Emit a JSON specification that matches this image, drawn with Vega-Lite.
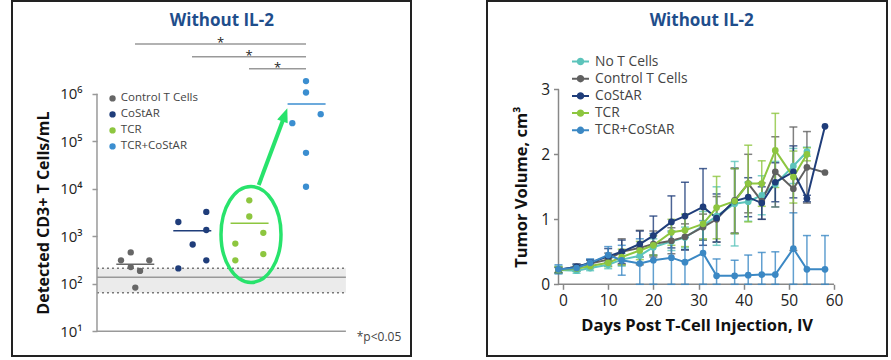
{
  "$schema": "https://vega.github.io/schema/vega-lite/v6.json",
  "background": "white",
  "padding": {"left": 11, "top": 0, "right": 0, "bottom": 0},
  "spacing": 74,
  "config": {"font": "Open Sans", "view": {"stroke": null}},
  "resolve": {"scale": {"color": "independent"}, "legend": {"color": "independent"}},
  "datasets": {
    "dots": [
      {"group": "Control T Cells", "pos": 0.754, "cells": 310},
      {"group": "Control T Cells", "pos": 0.925, "cells": 455},
      {"group": "Control T Cells", "pos": 1.251, "cells": 310},
      {"group": "Control T Cells", "pos": 0.925, "cells": 224},
      {"group": "Control T Cells", "pos": 1.088, "cells": 186},
      {"group": "Control T Cells", "pos": 1.005, "cells": 83},
      {"group": "CoStAR", "pos": 1.76, "cells": 1990},
      {"group": "CoStAR", "pos": 2.251, "cells": 3240},
      {"group": "CoStAR", "pos": 2.012, "cells": 670},
      {"group": "CoStAR", "pos": 2.251, "cells": 1350},
      {"group": "CoStAR", "pos": 2.251, "cells": 310},
      {"group": "CoStAR", "pos": 1.76, "cells": 210},
      {"group": "TCR", "pos": 3.005, "cells": 5700},
      {"group": "TCR", "pos": 3.005, "cells": 2600},
      {"group": "TCR", "pos": 3.251, "cells": 1180},
      {"group": "TCR", "pos": 2.76, "cells": 700},
      {"group": "TCR", "pos": 2.76, "cells": 310},
      {"group": "TCR", "pos": 3.251, "cells": 420},
      {"group": "TCR+CoStAR", "pos": 4.0, "cells": 1840000},
      {"group": "TCR+CoStAR", "pos": 4.0, "cells": 1060000},
      {"group": "TCR+CoStAR", "pos": 4.258, "cells": 370000},
      {"group": "TCR+CoStAR", "pos": 3.76, "cells": 240000},
      {"group": "TCR+CoStAR", "pos": 4.0, "cells": 57000},
      {"group": "TCR+CoStAR", "pos": 4.0, "cells": 11000}
    ],
    "means": [
      {"group": "Control T Cells", "pos": 1.005, "mean": 256},
      {"group": "CoStAR", "pos": 2.005, "mean": 1306},
      {"group": "TCR", "pos": 3.01, "mean": 1871},
      {"group": "TCR+CoStAR", "pos": 4.01, "mean": 607000}
    ],
    "brackets": [
      {"from": 1, "to": 4, "mid": 2.5, "level": 11100000},
      {"from": 2, "to": 4, "mid": 3.0, "level": 6010000},
      {"from": 3, "to": 4, "mid": 3.5, "level": 3360000}
    ],
    "growth": [
      {"series": "No T Cells", "day": -1, "v": 0.22, "lo": 0.17, "hi": 0.28},
      {"series": "No T Cells", "day": 3, "v": 0.21, "lo": 0.17, "hi": 0.25},
      {"series": "No T Cells", "day": 6, "v": 0.25, "lo": 0.21, "hi": 0.29},
      {"series": "No T Cells", "day": 10, "v": 0.3, "lo": 0.24, "hi": 0.36},
      {"series": "No T Cells", "day": 13, "v": 0.38, "lo": 0.28, "hi": 0.48},
      {"series": "No T Cells", "day": 17, "v": 0.44, "lo": 0.32, "hi": 0.56},
      {"series": "No T Cells", "day": 20, "v": 0.57, "lo": 0.44, "hi": 0.7},
      {"series": "No T Cells", "day": 24, "v": 0.66, "lo": 0.52, "hi": 0.8},
      {"series": "No T Cells", "day": 27, "v": 0.72, "lo": 0.56, "hi": 0.88},
      {"series": "No T Cells", "day": 31, "v": 0.9, "lo": 0.68, "hi": 1.12},
      {"series": "No T Cells", "day": 34, "v": 1.05, "lo": 0.6, "hi": 1.5},
      {"series": "No T Cells", "day": 38, "v": 1.24, "lo": 0.59, "hi": 1.89},
      {"series": "No T Cells", "day": 41, "v": 1.27, "lo": 0.97, "hi": 1.57},
      {"series": "No T Cells", "day": 44, "v": 1.37, "lo": 1.07, "hi": 1.67},
      {"series": "No T Cells", "day": 47, "v": 1.54, "lo": 1.19, "hi": 1.89},
      {"series": "No T Cells", "day": 51, "v": 1.82, "lo": 1.55, "hi": 2.09},
      {"series": "No T Cells", "day": 54, "v": 2.04, "lo": 1.97, "hi": 2.11},
      {"series": "Control T Cells", "day": -1, "v": 0.22, "lo": 0.18, "hi": 0.26},
      {"series": "Control T Cells", "day": 3, "v": 0.27, "lo": 0.23, "hi": 0.31},
      {"series": "Control T Cells", "day": 6, "v": 0.32, "lo": 0.27, "hi": 0.37},
      {"series": "Control T Cells", "day": 10, "v": 0.38, "lo": 0.28, "hi": 0.48},
      {"series": "Control T Cells", "day": 13, "v": 0.5, "lo": 0.3, "hi": 0.7},
      {"series": "Control T Cells", "day": 17, "v": 0.56, "lo": 0.3, "hi": 0.83},
      {"series": "Control T Cells", "day": 20, "v": 0.62, "lo": 0.42, "hi": 0.82},
      {"series": "Control T Cells", "day": 24, "v": 0.67, "lo": 0.47, "hi": 0.87},
      {"series": "Control T Cells", "day": 27, "v": 0.73, "lo": 0.53, "hi": 0.93},
      {"series": "Control T Cells", "day": 31, "v": 0.88, "lo": 0.68, "hi": 1.08},
      {"series": "Control T Cells", "day": 34, "v": 1.0, "lo": 0.65, "hi": 1.35},
      {"series": "Control T Cells", "day": 38, "v": 1.29, "lo": 0.79, "hi": 1.79},
      {"series": "Control T Cells", "day": 41, "v": 1.55, "lo": 1.1, "hi": 2.0},
      {"series": "Control T Cells", "day": 44, "v": 1.28, "lo": 1.0, "hi": 1.56},
      {"series": "Control T Cells", "day": 47, "v": 1.73, "lo": 1.19, "hi": 2.27},
      {"series": "Control T Cells", "day": 51, "v": 1.47, "lo": 0.52, "hi": 2.42},
      {"series": "Control T Cells", "day": 54, "v": 1.8, "lo": 1.25, "hi": 2.35},
      {"series": "Control T Cells", "day": 58, "v": 1.72},
      {"series": "CoStAR", "day": -1, "v": 0.22, "lo": 0.18, "hi": 0.26},
      {"series": "CoStAR", "day": 3, "v": 0.27, "lo": 0.23, "hi": 0.31},
      {"series": "CoStAR", "day": 6, "v": 0.33, "lo": 0.28, "hi": 0.38},
      {"series": "CoStAR", "day": 10, "v": 0.43, "lo": 0.33, "hi": 0.55},
      {"series": "CoStAR", "day": 13, "v": 0.5, "lo": 0.32, "hi": 0.68},
      {"series": "CoStAR", "day": 17, "v": 0.62, "lo": 0.42, "hi": 0.82},
      {"series": "CoStAR", "day": 20, "v": 0.75, "lo": 0.45, "hi": 1.05},
      {"series": "CoStAR", "day": 24, "v": 0.96, "lo": 0.56, "hi": 1.36},
      {"series": "CoStAR", "day": 27, "v": 1.05, "lo": 0.53, "hi": 1.57},
      {"series": "CoStAR", "day": 31, "v": 1.19, "lo": 0.6, "hi": 1.78},
      {"series": "CoStAR", "day": 34, "v": 1.02, "lo": 0.65, "hi": 1.39},
      {"series": "CoStAR", "day": 38, "v": 1.28, "lo": 0.78, "hi": 1.78},
      {"series": "CoStAR", "day": 41, "v": 1.34, "lo": 1.04, "hi": 1.64},
      {"series": "CoStAR", "day": 44, "v": 1.25, "lo": 1.0, "hi": 1.5},
      {"series": "CoStAR", "day": 47, "v": 1.57, "lo": 1.27, "hi": 1.87},
      {"series": "CoStAR", "day": 51, "v": 1.73, "lo": 1.33, "hi": 2.13},
      {"series": "CoStAR", "day": 54, "v": 1.32, "lo": 1.27, "hi": 1.37},
      {"series": "CoStAR", "day": 58, "v": 2.43},
      {"series": "TCR", "day": -1, "v": 0.22, "lo": 0.17, "hi": 0.27},
      {"series": "TCR", "day": 3, "v": 0.24, "lo": 0.2, "hi": 0.28},
      {"series": "TCR", "day": 6, "v": 0.28, "lo": 0.24, "hi": 0.32},
      {"series": "TCR", "day": 10, "v": 0.33, "lo": 0.27, "hi": 0.39},
      {"series": "TCR", "day": 13, "v": 0.42, "lo": 0.3, "hi": 0.54},
      {"series": "TCR", "day": 17, "v": 0.52, "lo": 0.38, "hi": 0.66},
      {"series": "TCR", "day": 20, "v": 0.6, "lo": 0.45, "hi": 0.75},
      {"series": "TCR", "day": 24, "v": 0.8, "lo": 0.6, "hi": 1.0},
      {"series": "TCR", "day": 27, "v": 0.83, "lo": 0.58, "hi": 1.08},
      {"series": "TCR", "day": 31, "v": 0.93, "lo": 0.7, "hi": 1.16},
      {"series": "TCR", "day": 34, "v": 1.18, "lo": 0.7, "hi": 1.66},
      {"series": "TCR", "day": 38, "v": 1.28, "lo": 0.78, "hi": 1.78},
      {"series": "TCR", "day": 41, "v": 1.55, "lo": 0.96, "hi": 2.14},
      {"series": "TCR", "day": 44, "v": 1.55, "lo": 1.2, "hi": 1.9},
      {"series": "TCR", "day": 47, "v": 2.06, "lo": 1.49, "hi": 2.63},
      {"series": "TCR", "day": 51, "v": 1.65, "lo": 1.25, "hi": 2.05},
      {"series": "TCR", "day": 54, "v": 2.0, "lo": 1.9, "hi": 2.1},
      {"series": "TCR+CoStAR", "day": -1, "v": 0.23, "lo": 0.16, "hi": 0.3},
      {"series": "TCR+CoStAR", "day": 3, "v": 0.25, "lo": 0.2, "hi": 0.3},
      {"series": "TCR+CoStAR", "day": 6, "v": 0.33, "lo": 0.27, "hi": 0.39},
      {"series": "TCR+CoStAR", "day": 10, "v": 0.45, "lo": 0.32, "hi": 0.58},
      {"series": "TCR+CoStAR", "day": 13, "v": 0.37, "lo": 0.14, "hi": 0.6},
      {"series": "TCR+CoStAR", "day": 17, "v": 0.32, "lo": 0.0, "hi": 0.7},
      {"series": "TCR+CoStAR", "day": 20, "v": 0.37, "lo": 0.0, "hi": 0.78},
      {"series": "TCR+CoStAR", "day": 24, "v": 0.41, "lo": 0.0, "hi": 0.82},
      {"series": "TCR+CoStAR", "day": 27, "v": 0.34, "lo": 0.0, "hi": 0.72},
      {"series": "TCR+CoStAR", "day": 31, "v": 0.48, "lo": 0.0, "hi": 0.98},
      {"series": "TCR+CoStAR", "day": 34, "v": 0.13, "lo": 0.0, "hi": 0.39},
      {"series": "TCR+CoStAR", "day": 38, "v": 0.13, "lo": 0.0, "hi": 0.37},
      {"series": "TCR+CoStAR", "day": 41, "v": 0.14, "lo": 0.0, "hi": 0.45},
      {"series": "TCR+CoStAR", "day": 44, "v": 0.15, "lo": 0.0, "hi": 0.49},
      {"series": "TCR+CoStAR", "day": 47, "v": 0.15, "lo": 0.0, "hi": 0.5},
      {"series": "TCR+CoStAR", "day": 51, "v": 0.55, "lo": 0.0, "hi": 1.1},
      {"series": "TCR+CoStAR", "day": 54, "v": 0.23, "lo": 0.0, "hi": 0.75},
      {"series": "TCR+CoStAR", "day": 58, "v": 0.23, "lo": 0.0, "hi": 0.75}
    ]
  },
  "hconcat": [
    {
      "width": 399,
      "height": 355,
      "view": {"stroke": "#222", "strokeWidth": 2, "fill": "white"},
      "layer": [
        {
          "data": {"values": [{}]},
          "mark": {"type": "rect", "color": "#ebebeb"},
          "encoding": {
            "x": {"datum": 0.333, "type": "quantitative", "scale": {"domain": [-1.158, 5.842], "nice": false, "zero": false}, "axis": null},
            "x2": {"datum": 4.7},
            "y": {"datum": 64.7, "type": "quantitative", "scale": {"type": "log", "domain": [3.006, 89450000], "nice": false}},
            "y2": {"datum": 211}
          }
        },
        {
          "data": {"values": [{}]},
          "mark": {"type": "rule", "color": "#777", "strokeWidth": 1.5, "strokeDash": [2, 3]},
          "encoding": {
            "x": {"datum": 0.333, "type": "quantitative", "scale": {"domain": [-1.158, 5.842], "nice": false, "zero": false}, "axis": null},
            "x2": {"datum": 4.7},
            "y": {"datum": 211, "type": "quantitative", "scale": {"type": "log", "domain": [3.006, 89450000], "nice": false}}
          }
        },
        {
          "data": {"values": [{}]},
          "mark": {"type": "rule", "color": "#777", "strokeWidth": 1.5, "strokeDash": [2, 3]},
          "encoding": {
            "x": {"datum": 0.333, "type": "quantitative", "scale": {"domain": [-1.158, 5.842], "nice": false, "zero": false}, "axis": null},
            "x2": {"datum": 4.7},
            "y": {"datum": 64.7, "type": "quantitative", "scale": {"type": "log", "domain": [3.006, 89450000], "nice": false}}
          }
        },
        {
          "data": {"values": [{}]},
          "mark": {"type": "rule", "color": "#999", "strokeWidth": 1.5},
          "encoding": {
            "x": {"datum": 0.333, "type": "quantitative", "scale": {"domain": [-1.158, 5.842], "nice": false, "zero": false}, "axis": null},
            "x2": {"datum": 4.7},
            "y": {"datum": 136, "type": "quantitative", "scale": {"type": "log", "domain": [3.006, 89450000], "nice": false}}
          }
        },
        {
          "data": {"values": [{}]},
          "mark": {"type": "rule", "color": "#999", "strokeWidth": 1.5},
          "encoding": {
            "x": {"datum": 0.333, "type": "quantitative", "scale": {"domain": [-1.158, 5.842], "nice": false, "zero": false}, "axis": null},
            "y": {"datum": 10, "type": "quantitative", "scale": {"type": "log", "domain": [3.006, 89450000], "nice": false}},
            "y2": {"datum": 1000000}
          }
        },
        {
          "data": {"values": [{}]},
          "mark": {"type": "rule", "color": "#999", "strokeWidth": 1.5},
          "encoding": {
            "x": {"datum": 0.333, "type": "quantitative", "scale": {"domain": [-1.158, 5.842], "nice": false, "zero": false}, "axis": null},
            "x2": {"datum": 4.7},
            "y": {"datum": 10, "type": "quantitative", "scale": {"type": "log", "domain": [3.006, 89450000], "nice": false}}
          }
        },
        {
          "data": {"name": "brackets"},
          "mark": {"type": "rule", "color": "#999", "strokeWidth": 1.5},
          "encoding": {
            "x": {"field": "from", "type": "quantitative", "scale": {"domain": [-1.158, 5.842], "nice": false, "zero": false}, "axis": null},
            "x2": {"field": "to"},
            "y": {"field": "level", "type": "quantitative", "scale": {"type": "log", "domain": [3.006, 89450000], "nice": false}}
          }
        },
        {
          "data": {"name": "brackets"},
          "mark": {"type": "text", "text": "*", "fontSize": 13, "color": "#222", "baseline": "alphabetic", "dy": 3},
          "encoding": {
            "x": {"field": "mid", "type": "quantitative", "scale": {"domain": [-1.158, 5.842], "nice": false, "zero": false}, "axis": null},
            "y": {"field": "level", "type": "quantitative", "scale": {"type": "log", "domain": [3.006, 89450000], "nice": false}}
          }
        },
        {
          "data": {"values": [{}]},
          "mark": {"type": "text", "text": "Without IL-2", "fontSize": 17, "fontWeight": "bold", "color": "#1f4e8c", "align": "center", "baseline": "alphabetic"},
          "encoding": {
            "x": {"datum": 2.523, "type": "quantitative", "scale": {"domain": [-1.158, 5.842], "nice": false, "zero": false}, "axis": null},
            "y": {"datum": 26600000, "type": "quantitative", "scale": {"type": "log", "domain": [3.006, 89450000], "nice": false}}
          }
        },
        {
          "data": {"name": "means"},
          "mark": {"type": "tick", "orient": "horizontal", "size": 38, "thickness": 1.5, "opacity": 1},
          "encoding": {
            "x": {"field": "pos", "type": "quantitative", "scale": {"domain": [-1.158, 5.842], "nice": false, "zero": false}, "axis": null},
            "y": {"field": "mean", "type": "quantitative", "scale": {"type": "log", "domain": [3.006, 89450000], "nice": false}},
            "color": {"field": "group", "type": "nominal", "scale": {"domain": ["Control T Cells", "CoStAR", "TCR", "TCR+CoStAR"], "range": ["#666666", "#1f3d7a", "#8dc63f", "#3b8ed0"]}}
          }
        },
        {
          "data": {"name": "dots"},
          "mark": {"type": "point", "filled": true, "size": 40, "opacity": 1},
          "encoding": {
            "x": {"field": "pos", "type": "quantitative", "scale": {"domain": [-1.158, 5.842], "nice": false, "zero": false}, "axis": null},
            "y": {
              "field": "cells", "type": "quantitative",
              "scale": {"type": "log", "domain": [3.006, 89450000], "nice": false},
              "axis": {
                "values": [10, 100, 1000, 10000, 100000, 1000000],
                "offset": -85, "domain": false, "grid": false,
                "tickSize": 5, "tickColor": "#999", "tickWidth": 1.5,
                "labelFontSize": 15, "labelColor": "#222", "labelPadding": 10,
                "labelExpr": "'10' + ['⁰','¹','²','³','⁴','⁵','⁶','⁷'][round(log(datum.value)/LN10)]",
                "title": "Detected CD3+ T Cells/mL",
                "titleFontSize": 16, "titleFontWeight": "bold", "titleColor": "#111",
                "titleX": -48.7, "titleY": 211.5, "titleBaseline": "alphabetic", "titleAngle": 270, "titleAlign": "center"
              }
            },
            "color": {
              "field": "group", "type": "nominal",
              "scale": {"domain": ["Control T Cells", "CoStAR", "TCR", "TCR+CoStAR"], "range": ["#666666", "#1f3d7a", "#8dc63f", "#3b8ed0"]},
              "legend": {"orient": "none", "legendX": 94.8, "legendY": 91.7, "title": null, "labelFontSize": 11.5, "labelColor": "#444", "symbolType": "circle", "symbolSize": 40, "symbolOpacity": 1, "rowPadding": 3, "labelOffset": 2.5, "padding": 0}
            }
          }
        },
        {
          "data": {"values": [{}]},
          "mark": {"type": "point", "shape": "M 0.625 0 A 0.625 1 0 1 1 -0.625 0 A 0.625 1 0 1 1 0.625 0 Z", "size": 9216, "filled": false, "stroke": "#28e36c", "strokeWidth": 3.5, "opacity": 1},
          "encoding": {
            "x": {"datum": 3.035, "type": "quantitative", "scale": {"domain": [-1.158, 5.842], "nice": false, "zero": false}, "axis": null},
            "y": {"datum": 1087, "type": "quantitative", "scale": {"type": "log", "domain": [3.006, 89450000], "nice": false}}
          }
        },
        {
          "data": {"values": [{}]},
          "mark": {"type": "rule", "color": "#28e36c", "strokeWidth": 4},
          "encoding": {
            "x": {"datum": 3.17, "type": "quantitative", "scale": {"domain": [-1.158, 5.842], "nice": false, "zero": false}, "axis": null},
            "x2": {"datum": 3.605},
            "y": {"datum": 11970, "type": "quantitative", "scale": {"type": "log", "domain": [3.006, 89450000], "nice": false}},
            "y2": {"datum": 298000}
          }
        },
        {
          "data": {"values": [{}]},
          "mark": {"type": "point", "shape": "M 0 0 L 0.8 2 L -0.8 2 Z", "size": 196, "filled": true, "color": "#28e36c", "angle": 20.5, "opacity": 1},
          "encoding": {
            "x": {"datum": 3.672, "type": "quantitative", "scale": {"domain": [-1.158, 5.842], "nice": false, "zero": false}, "axis": null},
            "y": {"datum": 493000, "type": "quantitative", "scale": {"type": "log", "domain": [3.006, 89450000], "nice": false}}
          }
        },
        {
          "data": {"values": [{}]},
          "mark": {"type": "text", "text": "*p<0.05", "fontSize": 12, "color": "#444", "align": "left", "baseline": "middle"},
          "encoding": {
            "x": {"datum": 4.89, "type": "quantitative", "scale": {"domain": [-1.158, 5.842], "nice": false, "zero": false}, "axis": null},
            "y": {"datum": 7.6, "type": "quantitative", "scale": {"type": "log", "domain": [3.006, 89450000], "nice": false}}
          }
        }
      ]
    },
    {
      "width": 400,
      "height": 355,
      "view": {"stroke": "#222", "strokeWidth": 2, "fill": "white"},
      "layer": [
        {
          "data": {"values": [{}]},
          "mark": {"type": "rule", "color": "#888", "strokeWidth": 1.5},
          "encoding": {
            "x": {"datum": -1, "type": "quantitative", "scale": {"domain": [-16.83, 71.73], "nice": false, "zero": false}, "title": "Days Post T-Cell Injection, IV"},
            "x2": {"datum": 60},
            "y": {"datum": 0, "type": "quantitative", "scale": {"domain": [-1.103, 4.3585], "nice": false, "zero": false}, "title": "Tumor Volume, cm³"}
          }
        },
        {
          "data": {"values": [{}]},
          "mark": {"type": "rule", "color": "#888", "strokeWidth": 1.5},
          "encoding": {
            "x": {"datum": -1, "type": "quantitative", "scale": {"domain": [-16.83, 71.73], "nice": false, "zero": false}, "title": "Days Post T-Cell Injection, IV"},
            "y": {"datum": 0, "type": "quantitative", "scale": {"domain": [-1.103, 4.3585], "nice": false, "zero": false}, "title": "Tumor Volume, cm³"},
            "y2": {"datum": 3}
          }
        },
        {
          "data": {"values": [{}]},
          "mark": {"type": "text", "text": "Without IL-2", "fontSize": 17, "fontWeight": "bold", "color": "#1f4e8c", "align": "center", "baseline": "alphabetic"},
          "encoding": {
            "x": {"datum": 30.7, "type": "quantitative", "scale": {"domain": [-16.83, 71.73], "nice": false, "zero": false}, "title": "Days Post T-Cell Injection, IV"},
            "y": {"datum": 3.974, "type": "quantitative", "scale": {"domain": [-1.103, 4.3585], "nice": false, "zero": false}, "title": "Tumor Volume, cm³"}
          }
        },
        {
          "data": {"name": "growth"},
          "mark": {"type": "errorbar", "thickness": 1.5, "ticks": {"size": 8, "opacity": 0.8}, "rule": {"opacity": 0.8}},
          "encoding": {
            "x": {"field": "day", "type": "quantitative", "scale": {"domain": [-16.83, 71.73], "nice": false, "zero": false}, "title": "Days Post T-Cell Injection, IV"},
            "y": {"field": "lo", "type": "quantitative", "scale": {"domain": [-1.103, 4.3585], "nice": false, "zero": false}, "title": "Tumor Volume, cm³"},
            "y2": {"field": "hi"},
            "color": {"field": "series", "type": "nominal", "scale": {"domain": ["No T Cells", "Control T Cells", "CoStAR", "TCR", "TCR+CoStAR"], "range": ["#5cc4bb", "#606060", "#1f3d7a", "#8dc63f", "#3b88c4"]}}
          }
        },
        {
          "data": {"name": "growth"},
          "mark": {"type": "line", "strokeWidth": 2},
          "encoding": {
            "x": {
              "field": "day", "type": "quantitative",
              "scale": {"domain": [-16.83, 71.73], "nice": false, "zero": false},
              "axis": {
                "values": [0, 10, 20, 30, 40, 50, 60], "offset": -71.7, "domain": false, "grid": false,
                "tickSize": 5, "tickColor": "#888", "tickWidth": 1.5,
                "labelFontSize": 15.5, "labelColor": "#222", "labelPadding": 4, "labelFlush": false, "format": "d",
                "title": "Days Post T-Cell Injection, IV", "titleFontSize": 16.5, "titleFontWeight": "bold", "titleColor": "#111",
                "titleX": 209.7, "titleY": 46.4, "titleBaseline": "alphabetic", "titleAlign": "center"
              }
            },
            "y": {
              "field": "v", "type": "quantitative",
              "scale": {"domain": [-1.103, 4.3585], "nice": false, "zero": false},
              "axis": {
                "values": [0, 1, 2, 3], "offset": -71.5, "domain": false, "grid": false, "format": "d",
                "tickSize": 5, "tickColor": "#888", "tickWidth": 1.5,
                "labelFontSize": 15.5, "labelColor": "#222", "labelPadding": 4,
                "title": "Tumor Volume, cm³", "titleFontSize": 16.5, "titleFontWeight": "bold", "titleColor": "#111",
                "titleX": -32, "titleY": 185.7, "titleBaseline": "alphabetic", "titleAngle": 270, "titleAlign": "center"
              }
            },
            "color": {
              "field": "series", "type": "nominal",
              "scale": {"domain": ["No T Cells", "Control T Cells", "CoStAR", "TCR", "TCR+CoStAR"], "range": ["#5cc4bb", "#606060", "#1f3d7a", "#8dc63f", "#3b88c4"]},
              "legend": {
                "orient": "none", "legendX": 84, "legendY": 51, "title": null,
                "labelFontSize": 13.8, "labelColor": "#444",
                "symbolType": "M -1 0 L 1 0 M 0.32 0 A 0.32 0.32 0 1 1 -0.32 0 A 0.32 0.32 0 1 1 0.32 0 Z",
                "symbolSize": 289, "symbolStrokeWidth": 2, "symbolOpacity": 1, "rowPadding": 0.2, "labelOffset": 5, "padding": 0,
                "encode": {"symbols": {"update": {"fill": {"signal": "datum.value === 'No T Cells' ? '#5cc4bb' : datum.value === 'Control T Cells' ? '#606060' : datum.value === 'CoStAR' ? '#1f3d7a' : datum.value === 'TCR' ? '#8dc63f' : '#3b88c4'"}, "opacity": {"value": 1}}}}
              }
            }
          }
        },
        {
          "data": {"name": "growth"},
          "mark": {"type": "point", "filled": true, "size": 45, "opacity": 1},
          "encoding": {
            "x": {"field": "day", "type": "quantitative", "scale": {"domain": [-16.83, 71.73], "nice": false, "zero": false}, "title": "Days Post T-Cell Injection, IV"},
            "y": {"field": "v", "type": "quantitative", "scale": {"domain": [-1.103, 4.3585], "nice": false, "zero": false}, "title": "Tumor Volume, cm³"},
            "color": {"field": "series", "type": "nominal", "scale": {"domain": ["No T Cells", "Control T Cells", "CoStAR", "TCR", "TCR+CoStAR"], "range": ["#5cc4bb", "#606060", "#1f3d7a", "#8dc63f", "#3b88c4"]}}
          }
        }
      ]
    }
  ]
}
